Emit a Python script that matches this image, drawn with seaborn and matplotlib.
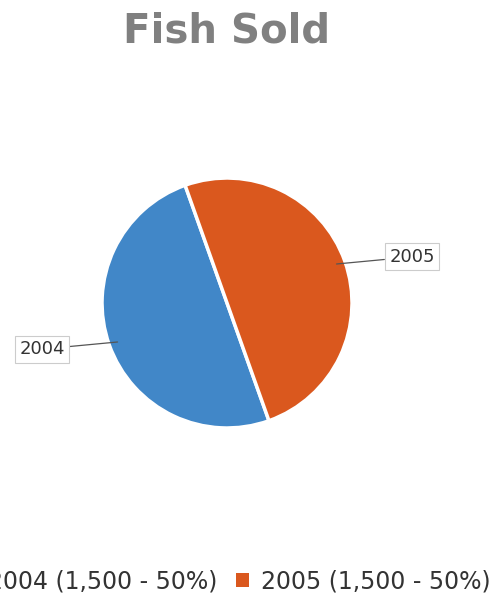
import numpy as np
import matplotlib
matplotlib.use("Agg")
import matplotlib.pyplot as plt
import seaborn as sns
from matplotlib.patches import Patch

# Data
years = ["2004", "2005"]
fish_sold = [1500, 1500]
colors = ["#4187c8", "#da581e"]

sns.set_style("white")
plt.rcParams['font.family'] = ['DejaVu Sans']

fig = plt.figure(figsize=(5.03, 5.93), dpi=100)
ax = fig.add_axes([0.178, 0.2572, 0.5467, 0.4637])

wedges, _ = ax.pie(fish_sold, colors=colors, startangle=109.6, counterclock=True,
                   wedgeprops=dict(edgecolor="white", linewidth=2.5))
ax.set_xlim(-1.1, 1.1)
ax.set_ylim(-1.1, 1.1)
ax.set_aspect("equal")
ax.axis("off")

# Labels with leader lines at the middle of each wedge
for w, lab in zip(wedges, years):
    ang = np.deg2rad((w.theta1 + w.theta2) / 2)
    x, y = np.cos(ang), np.sin(ang)
    ax.annotate(lab, xy=(0.93 * x, 0.93 * y), xytext=(1.48 * np.sign(x), 1.1 * y),
                ha="center", va="center", fontsize=13, color="#333333",
                bbox=dict(boxstyle="square,pad=0.25", fc="white", ec="#cccccc", lw=0.8),
                arrowprops=dict(arrowstyle="-", color="#555555", lw=0.9, shrinkA=0, shrinkB=0),
                annotation_clip=False)

# Title
fig.text(0.451, 0.9275, "Fish Sold", ha="center", va="baseline",
         fontsize=29, fontweight="bold", color="#808080")

# Legend
total = sum(fish_sold)
labels = [f"{y} ({v:,} - {v / total:.0%})" for y, v in zip(years, fish_sold)]
handles = [Patch(facecolor=c, edgecolor="none") for c in colors]
fig.legend(handles, labels, loc="center", bbox_to_anchor=(0.451, 0.0202), ncol=2,
           frameon=False, fontsize=17, handlelength=0.55, handleheight=0.55,
           handletextpad=0.5, columnspacing=0.8, labelcolor="#333333")

fig.savefig("out.png", dpi=100)
